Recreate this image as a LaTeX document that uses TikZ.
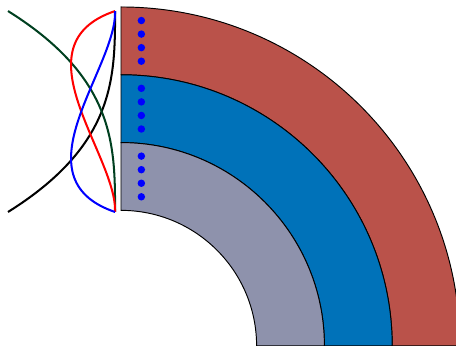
\documentclass[tikz,border=0pt]{standalone}
\begin{document}
\begin{tikzpicture}[x=1cm,y=1cm,line width=0.4pt]
\definecolor{outerband}{RGB}{186,82,74}
\definecolor{midband}{RGB}{0,114,185}
\definecolor{innerband}{RGB}{142,146,172}
\definecolor{darkgreen}{RGB}{0,64,32}
\tikzset{band/.style={draw=black,line width=0.4pt}, dot/.style={circle,fill=blue,inner sep=0pt,minimum size=0.11cm}, wave/.style={line width=0.85pt}}
\useasboundingbox (-1.785,0) rectangle (4.941,5.103);
% quarter rings
\filldraw[band,fill=outerband] (0,4) -- (0,5) arc[start angle=90,end angle=0,radius=5] -- (4,0) arc[start angle=0,end angle=90,radius=4] -- cycle;
\filldraw[band,fill=midband] (0,3) -- (0,4) arc[start angle=90,end angle=0,radius=4] -- (3,0) arc[start angle=0,end angle=90,radius=3] -- cycle;
\filldraw[band,fill=innerband] (0,2) -- (0,3) arc[start angle=90,end angle=0,radius=3] -- (2,0) arc[start angle=0,end angle=90,radius=2] -- cycle;
% dots in each ring
\foreach \r in {2,3,4}
  \foreach \k in {1,...,4}
    \node[dot] (d\r\k) at (0.3,\r+0.2*\k) {};
% profiles
\coordinate (top) at (-0.088,4.94);
\coordinate (bot) at (-0.088,1.976);
\draw[wave,black] (-1.667,1.976) .. controls (-0.088,2.964) and (-0.088,3.952) .. (top);
\draw[wave,darkgreen] (-1.667,4.94) .. controls (-0.088,3.952) and (-0.088,2.964) .. (bot);
\draw[wave,red] (top) .. controls (-1.563,4.44) and (-0.059,2.817) .. (bot);
\draw[wave,blue] (bot) .. controls (-1.563,2.478) and (-0.059,4.10) .. (top);
\end{tikzpicture}
\end{document}
